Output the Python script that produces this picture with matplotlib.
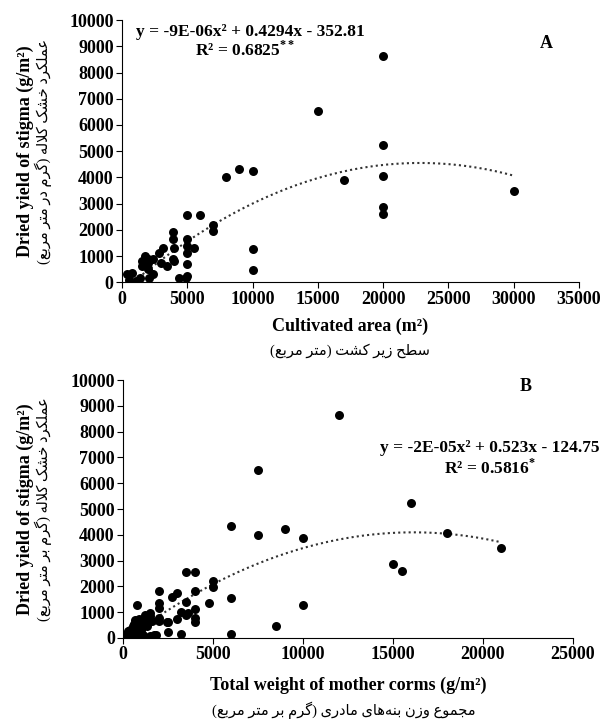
import numpy as np
import matplotlib
matplotlib.use('Agg')
import matplotlib.pyplot as plt

plt.rcParams['font.family'] = ['Liberation Serif', 'DejaVu Sans']
plt.rcParams['mathtext.fontset'] = 'custom'
plt.rcParams['mathtext.rm'] = 'Liberation Serif:bold'

# panel A: cultivated area vs dried stigma yield
area = [20000, 15000, 20000, 20000, 20000, 20000, 30000, 17000, 8000, 9000, 10000, 10000, 10000,
        5000, 6000, 7000, 7000, 3940, 3940, 4000, 3880, 4000, 5000, 5000, 5000, 5500, 5000, 5000, 4400, 4900,
        3150, 2850, 3440, 3000, 1800, 2000, 2000, 1500, 2400, 2100, 2400, 800, 500, 1100, 1500, 1400, 350, 2000]
yield_a = [8620, 6520, 5230, 4070, 2870, 2600, 3500, 3900, 4020, 4320, 4250, 1280, 460,
           2570, 2570, 2180, 1950, 1900, 1640, 1320, 870, 800, 1640, 1380, 1130, 1320, 680, 250, 170, 170,
           1320, 1130, 620, 740, 1000, 740, 490, 810, 870, 170, 300, 360, 100, 40, 620, 170, 300, 900]

# panel B: total weight of mother corms vs dried stigma yield
weight = [12000, 7500, 16000, 6000, 7500, 9000, 10000, 18000, 21000, 15000, 15500, 10000, 8500, 6000, 6000,
          3500, 4000, 5000, 5000, 4000, 2000, 2700, 3000, 3500, 4750, 4000, 2000, 2000, 3200, 3500, 3000,
          4000, 4000, 2000, 2500, 2500, 3200, 750,
          1500, 1400, 1100, 650, 550, 250, 150, 450, 850, 1700, 1300, 1000, 1600, 1300, 700, 400, 300, 600,
          900, 1200, 1500, 1400, 800, 500, 350, 1100, 1800, 1500, 2000, 2460, 3600]
yield_b = [8630, 6510, 5230, 4330, 4010, 4230, 3880, 4080, 3500, 2860, 2600, 1260, 450, 170, 1560,
           2570, 2570, 2220, 1960, 1830, 1830, 1600, 1730, 1400, 1350, 1140, 1350, 1150, 1000, 900, 740,
           770, 620, 770, 620, 220, 150, 1260,
           960, 770, 580, 700, 450, 260, 130, 60, 130, 100, 450, 320, 640, 830, 450, 300, 150, 550,
           750, 900, 850, 650, 350, 200, 50, 100, 100, 80, 650, 630, 950]

# quadratic trend coefficients (a, b, c)
trend_a = [-9.4e-06, 0.4294, -352.81]
trend_b = [-1.62e-05, 0.523, -124.75]

# persian text shaping (matplotlib has no arabic shaping)
FORMS = {
    'ا': ('\ufe8d', '\ufe8e'), 'د': ('\ufea9', '\ufeaa'), 'ر': ('\ufead', '\ufeae'),
    'ز': ('\ufeaf', '\ufeb0'), 'و': ('\ufeed', '\ufeee'), '\ufefb': ('\ufefb', '\ufefc'),
    'ب': ('\ufe8f', '\ufe90', '\ufe91', '\ufe92'), 'ت': ('\ufe95', '\ufe96', '\ufe97', '\ufe98'),
    'ج': ('\ufe9d', '\ufe9e', '\ufe9f', '\ufea0'), 'ح': ('\ufea1', '\ufea2', '\ufea3', '\ufea4'),
    'خ': ('\ufea5', '\ufea6', '\ufea7', '\ufea8'), 'س': ('\ufeb1', '\ufeb2', '\ufeb3', '\ufeb4'),
    'ش': ('\ufeb5', '\ufeb6', '\ufeb7', '\ufeb8'), 'ط': ('\ufec1', '\ufec2', '\ufec3', '\ufec4'),
    'ع': ('\ufec9', '\ufeca', '\ufecb', '\ufecc'), 'ل': ('\ufedd', '\ufede', '\ufedf', '\ufee0'),
    'م': ('\ufee1', '\ufee2', '\ufee3', '\ufee4'), 'ن': ('\ufee5', '\ufee6', '\ufee7', '\ufee8'),
    'ه': ('\ufee9', '\ufeea', '\ufeeb', '\ufeec'), 'ک': ('\ufb8e', '\ufb8f', '\ufb90', '\ufb91'),
    'گ': ('\ufb92', '\ufb93', '\ufb94', '\ufb95'), 'ی': ('\ufbfc', '\ufbfd', '\ufbfe', '\ufbff'),
}

def fa(s):
    s = s.replace('لا', '\ufefb')
    out = []
    for i, c in enumerate(s):
        if c not in FORMS:
            if c != '\u200c':
                out.append(c)
            continue
        f = FORMS[c]
        prev = s[i - 1] if i > 0 else ''
        nxt = s[i + 1] if i + 1 < len(s) else ''
        p = prev in FORMS and len(FORMS[prev]) == 4
        n = len(f) == 4 and nxt in FORMS
        if p and n:
            out.append(f[3])
        elif p:
            out.append(f[1])
        elif n:
            out.append(f[2])
        else:
            out.append(f[0])
    r = ''.join(out)[::-1]
    return r.replace('(', '\0').replace(')', '(').replace('\0', ')')


fig = plt.figure(figsize=(6.01, 7.2), dpi=100)
axA = fig.add_axes([0.203, 0.608, 0.760, 0.364])
axB = fig.add_axes([0.205, 0.114, 0.748, 0.358])

def setup(ax, x, y, coef, xmax):
    ax.scatter(x, y, s=42, color='black', zorder=3, linewidths=0)
    xs = np.linspace(min(x), max(x), 300)
    ax.plot(xs, np.polyval(coef, xs), ls=(0, (1, 1.5)), color='#333333', lw=1.5, zorder=2)
    ax.set_xlim(0, xmax)
    ax.set_ylim(0, 10000)
    ax.set_yticks(np.arange(0, 10001, 1000))
    ax.set_xticks(np.arange(0, xmax + 1, 5000))
    for s in ['top', 'right']:
        ax.spines[s].set_visible(False)
    ax.tick_params(direction='out', length=4, width=0.8, labelsize=13, pad=2)
    for t in ax.get_xticklabels() + ax.get_yticklabels():
        t.set_fontweight('bold')
    ax.set_ylabel('Dried yield of stigma (g/m²)', fontsize=13, fontweight='bold')

setup(axA, area, yield_a, trend_a, 35000)
axA.yaxis.set_label_coords(-0.193, 0.5)
axA.set_xlabel('Cultivated area (m²)', fontsize=13, fontweight='bold')
axA.xaxis.set_label_coords(0.5, -0.137)
axA.text(-0.172, 0.5, fa('عملکرد خشک کلاله (گرم در متر مربع)'), transform=axA.transAxes,
         rotation=90, ha='center', va='center', fontsize=10.5)
axA.text(0.5, -0.26, fa('سطح زیر کشت (متر مربع)'), transform=axA.transAxes,
         ha='center', va='center', fontsize=10.5)
axA.text(0.28, 0.954, 'y = -9E-06x² + 0.4294x - 352.81', transform=axA.transAxes,
         ha='center', va='center', fontsize=12.5, fontweight='bold')
axA.text(0.27, 0.885, 'R² = 0.6825$^{**}$', transform=axA.transAxes,
         ha='center', va='center', fontsize=12.5, fontweight='bold')
axA.text(0.928, 0.912, 'A', transform=axA.transAxes, ha='center', va='center',
         fontsize=13, fontweight='bold')

setup(axB, weight, yield_b, trend_b, 25000)
axB.yaxis.set_label_coords(-0.198, 0.5)
axB.set_xlabel('Total weight of mother corms (g/m²)', fontsize=13, fontweight='bold')
axB.xaxis.set_label_coords(0.5, -0.151)
axB.text(-0.178, 0.5, fa('عملکرد خشک کلاله (گرم بر متر مربع)'), transform=axB.transAxes,
         rotation=90, ha='center', va='center', fontsize=10.5)
axB.text(0.49, -0.279, fa('مجموع وزن بنه‌های مادری (گرم بر متر مربع)'), transform=axB.transAxes,
         ha='center', va='center', fontsize=10.5)
axB.text(0.816, 0.736, 'y = -2E-05x² + 0.523x - 124.75', transform=axB.transAxes,
         ha='center', va='center', fontsize=12.5, fontweight='bold')
axB.text(0.816, 0.659, 'R² = 0.5816$^{*}$', transform=axB.transAxes,
         ha='center', va='center', fontsize=12.5, fontweight='bold')
axB.text(0.896, 0.977, 'B', transform=axB.transAxes, ha='center', va='center',
         fontsize=13, fontweight='bold')

fig.savefig('out.png', dpi=100, facecolor='white')
